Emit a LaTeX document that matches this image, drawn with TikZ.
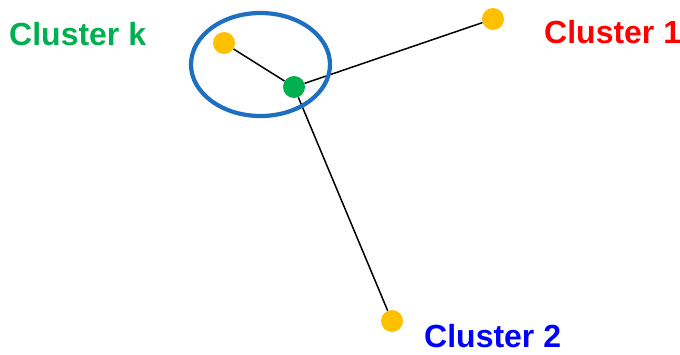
\documentclass[tikz,border=0pt]{standalone}
\usepackage{fontspec}
\setmainfont{Liberation Sans}
\usetikzlibrary{shapes.geometric}
\definecolor{cgreen}{HTML}{00B050}
\definecolor{cred}{HTML}{FF0000}
\definecolor{cblue}{HTML}{0000FF}
\definecolor{cyellow}{HTML}{FFC000}
\definecolor{ering}{HTML}{1F6FC1}
\begin{document}
\begin{tikzpicture}[x=1pt,y=-1pt,
  dot/.style={circle,inner sep=0pt,minimum size=22pt},
  ydot/.style={dot,fill=cyellow},
  gdot/.style={dot,fill=cgreen},
  link/.style={line width=1.5pt,black},
  lab/.style={anchor=base west,inner sep=0pt,font=\fontsize{32}{38}\selectfont\bfseries}]
\path[use as bounding box,fill=white] (0,0) rectangle (680,354);
\node[ydot] (yk) at (224,43) {};
\node[gdot] (g) at (294,87) {};
\node[ydot] (y1) at (493,19) {};
\node[ydot] (y2) at (392,321) {};
\draw[link] (g) -- (yk);
\draw[link] (g) -- (y1);
\draw[link] (g) -- (y2);
\node[draw=ering,line width=4.2pt,ellipse,inner sep=0pt,minimum width=139pt,minimum height=103pt] (ell) at (260.5,64.5) {};
\node[lab,text=cgreen] (lk) at (9,45) {Cluster k};
\node[lab,text=cred] (l1) at (544,43) {Cluster 1};
\node[lab,text=cblue] (l2) at (424,347) {Cluster 2};
\end{tikzpicture}
\end{document}
